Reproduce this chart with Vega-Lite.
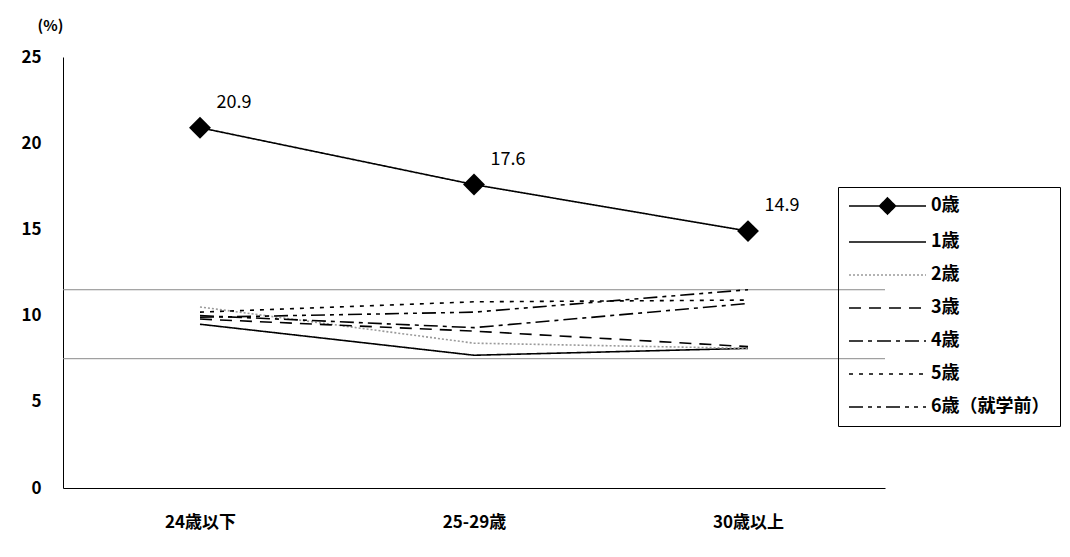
{
  "$schema": "https://vega.github.io/schema/vega-lite/v6.json",
  "width": 822,
  "height": 431,
  "autosize": {"type": "none"},
  "padding": {"left": 63, "top": 57, "right": 185, "bottom": 69},
  "background": "white",
  "config": {
    "view": {"stroke": null},
    "font": "Noto Sans CJK JP"
  },
  "datasets": {
    "rates": [
      {"series": "0歳", "age": "24歳以下", "value": 20.9},
      {"series": "0歳", "age": "25-29歳", "value": 17.6},
      {"series": "0歳", "age": "30歳以上", "value": 14.9},
      {"series": "1歳", "age": "24歳以下", "value": 9.5},
      {"series": "1歳", "age": "25-29歳", "value": 7.7},
      {"series": "1歳", "age": "30歳以上", "value": 8.1},
      {"series": "2歳", "age": "24歳以下", "value": 10.5},
      {"series": "2歳", "age": "25-29歳", "value": 8.4},
      {"series": "2歳", "age": "30歳以上", "value": 8.1},
      {"series": "3歳", "age": "24歳以下", "value": 9.8},
      {"series": "3歳", "age": "25-29歳", "value": 9.1},
      {"series": "3歳", "age": "30歳以上", "value": 8.2},
      {"series": "4歳", "age": "24歳以下", "value": 10.0},
      {"series": "4歳", "age": "25-29歳", "value": 9.3},
      {"series": "4歳", "age": "30歳以上", "value": 10.7},
      {"series": "5歳", "age": "24歳以下", "value": 10.2},
      {"series": "5歳", "age": "25-29歳", "value": 10.8},
      {"series": "5歳", "age": "30歳以上", "value": 10.9},
      {"series": "6歳（就学前）", "age": "24歳以下", "value": 9.9},
      {"series": "6歳（就学前）", "age": "25-29歳", "value": 10.2},
      {"series": "6歳（就学前）", "age": "30歳以上", "value": 11.5}
    ],
    "guides": [
      {"level": 11.5},
      {"level": 7.5}
    ]
  },
  "layer": [
    {
      "data": {"name": "guides"},
      "mark": {"type": "rule", "color": "#8a8a8a", "strokeWidth": 1},
      "encoding": {
        "y": {"field": "level", "type": "quantitative", "scale": {"domain": [0, 25]}}
      }
    },
    {
      "data": {"name": "rates"},
      "mark": {"type": "line", "strokeWidth": 1.6},
      "encoding": {
        "x": {
          "field": "age", "type": "nominal", "sort": null,
          "scale": {"type": "point", "padding": 0.5},
          "axis": {
            "title": null, "labelAngle": 0, "ticks": false,
            "domainColor": "black", "domainWidth": 1,
            "labelFontSize": 17, "labelFontWeight": "bold", "labelColor": "black",
            "labelPadding": 26
          }
        },
        "y": {
          "field": "value", "type": "quantitative",
          "scale": {"domain": [0, 25], "nice": false},
          "axis": {
            "values": [0, 5, 10, 15, 20, 25], "grid": false, "ticks": false,
            "domainColor": "black", "domainWidth": 1,
            "labelFontSize": 17, "labelFontWeight": "bold", "labelColor": "black",
            "labelPadding": 22,
            "title": "(%)", "titleAngle": 0, "titleAlign": "center", "titleBaseline": "middle",
            "titleX": -13, "titleY": -32, "titleFontSize": 15, "titleFontWeight": "bold", "titleColor": "black"
          }
        },
        "color": {
          "field": "series", "type": "nominal", "sort": null,
          "scale": {
            "domain": ["0歳", "1歳", "2歳", "3歳", "4歳", "5歳", "6歳（就学前）"],
            "range": ["black", "black", "#9a9a9a", "black", "black", "black", "black"]
          },
          "legend": {
            "title": null, "orient": "none", "legendX": 775, "legendY": 130,
            "strokeColor": "black", "padding": 10, "rowPadding": 15,
            "symbolSize": 100, "symbolStrokeWidth": 1.6, "labelOffset": 65,
            "labelFontSize": 18, "labelFontWeight": "bold", "labelColor": "black",
            "encode": {
              "symbols": {
                "update": {
                  "shape": {"signal": "datum.value === '0歳' ? 'M-1.6,0H13.8M6.1,-1.6L7.7,0L6.1,1.6L4.5,0Z' : 'M-1.6,0H13.8'"},
                  "fill": {"value": "black"}
                }
              }
            }
          }
        },
        "strokeDash": {
          "field": "series", "type": "nominal", "sort": null,
          "scale": {
            "domain": ["0歳", "1歳", "2歳", "3歳", "4歳", "5歳", "6歳（就学前）"],
            "range": [[1, 0], [1, 0], [2, 2], [12, 8], [14, 5, 4, 5], [4, 6], [14, 5, 4, 5, 4, 5]]
          },
          "legend": {
            "title": null, "orient": "none", "legendX": 775, "legendY": 130,
            "strokeColor": "black", "padding": 10, "rowPadding": 15,
            "symbolSize": 100, "symbolStrokeWidth": 1.6, "labelOffset": 65,
            "labelFontSize": 18, "labelFontWeight": "bold", "labelColor": "black",
            "encode": {
              "symbols": {
                "update": {
                  "shape": {"signal": "datum.value === '0歳' ? 'M-1.6,0H13.8M6.1,-1.6L7.7,0L6.1,1.6L4.5,0Z' : 'M-1.6,0H13.8'"},
                  "fill": {"value": "black"}
                }
              }
            }
          }
        }
      }
    },
    {
      "data": {"name": "rates"},
      "transform": [{"filter": "datum.series === '0歳'"}],
      "mark": {"type": "point", "shape": "diamond", "filled": true, "size": 480, "color": "black", "opacity": 1},
      "encoding": {
        "x": {"field": "age", "type": "nominal", "sort": null},
        "y": {"field": "value", "type": "quantitative"}
      }
    },
    {
      "data": {"name": "rates"},
      "transform": [{"filter": "datum.series === '0歳'"}],
      "mark": {"type": "text", "dx": 34, "dy": -25, "fontSize": 18, "color": "black"},
      "encoding": {
        "x": {"field": "age", "type": "nominal", "sort": null},
        "y": {"field": "value", "type": "quantitative"},
        "text": {"field": "value", "type": "quantitative", "format": ".1f"}
      }
    }
  ]
}
